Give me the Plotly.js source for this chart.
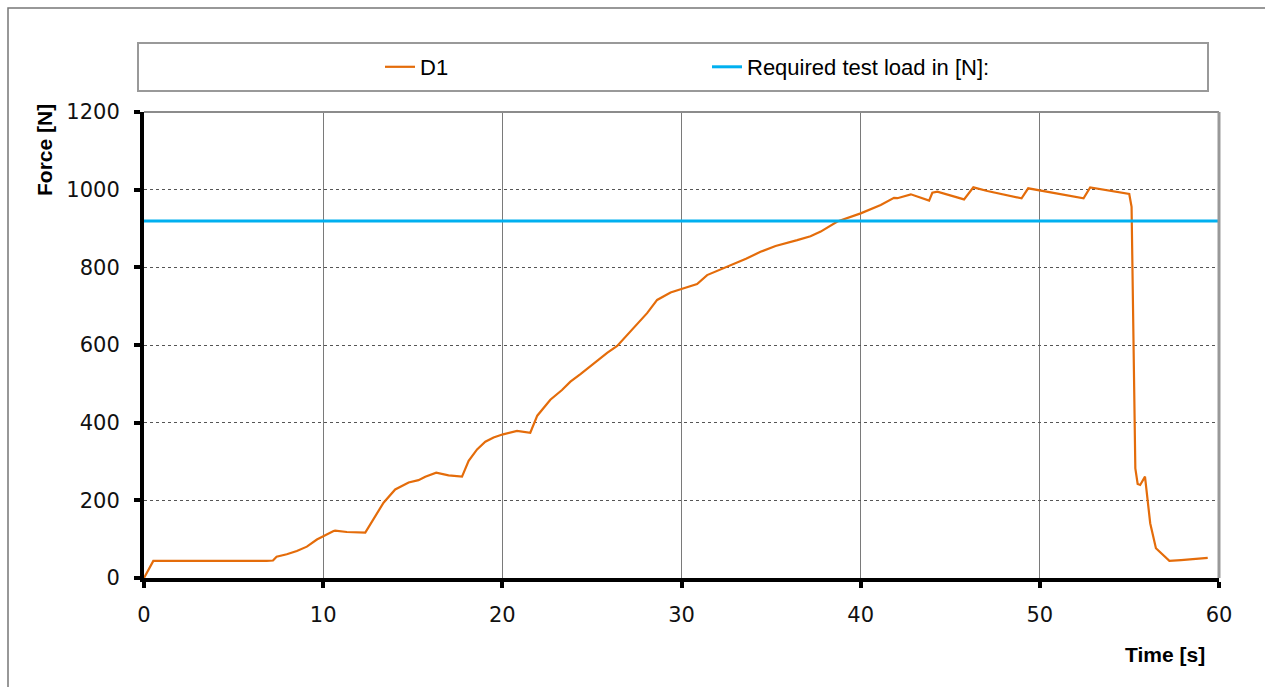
<!DOCTYPE html>
<html>
<head>
<meta charset="utf-8">
<script src="https://cdn.plot.ly/plotly-3.0.1.min.js"></script>
<style>html,body{margin:0;padding:0;background:#fff;}#chart{width:1265px;height:687px;}</style>
</head>
<body>
<div id="chart"></div>
<script>
// Data
var timeS = [0, 0.52, 6.85, 7.2, 7.4, 7.97, 8.53, 9.09, 9.65, 10.0, 10.58, 10.67, 11.32, 12.35, 13.37, 14.02, 14.77, 15.32, 15.7, 16.31, 17.0, 17.75, 18.12, 18.59, 19.05, 19.51, 20.04, 20.82, 21.56, 21.95, 22.68, 23.33, 23.8, 24.36, 24.92, 25.85, 26.41, 26.97, 27.52, 28.08, 28.64, 29.39, 30.04, 30.87, 31.43, 32.0, 32.92, 33.6, 34.41, 35.25, 36.46, 37.2, 37.77, 38.7, 40.0, 41.12, 41.86, 42.05, 42.8, 43.82, 44.0, 44.28, 45.77, 46.29, 47.07, 48.98, 49.35, 50.06, 52.44, 52.81, 54.99, 55.12, 55.17, 55.27, 55.33, 55.46, 55.6, 55.87, 55.98, 56.16, 56.48, 56.95, 57.23, 57.88, 59.37];
var forceN = [0, 44, 44, 45, 55, 61, 69.5, 80.7, 99, 108, 121, 122, 118.5, 117, 194, 228, 246, 252, 261, 271, 264.5, 261, 302, 331, 351, 362, 370, 379, 374, 418, 459, 484, 505.6, 525, 546, 580, 597.5, 626, 656, 682, 716, 735, 745, 757, 780, 791, 810, 822, 840, 855, 870, 880, 892, 918, 939, 960.6, 979, 978, 988, 971.7, 992, 995, 975, 1006, 996.6, 977.8, 1003.5, 997.5, 977.8, 1006, 989, 956, 802, 510, 282, 242, 239.5, 261, 218, 141, 76.5, 55, 44, 46, 52];
var requiredTime = [0, 60];
var requiredLoad = [919, 919];
var xTicks = [0, 10, 20, 30, 40, 50, 60];
var yTicks = [0, 200, 400, 600, 800, 1000, 1200];

var traces = [
  {
    x: timeS, y: forceN, type: 'scatter', mode: 'lines', name: 'D1',
    line: {color: '#E46C0A', width: 2.2}
  },
  {
    x: requiredTime, y: requiredLoad, type: 'scatter', mode: 'lines', name: 'Required test load in [N]:',
    line: {color: '#00B0F0', width: 3}
  }
];

var W = 1265, H = 687, L = 144, R = 1219, T = 112, B = 578;
function px(xp){ return (xp - L) / (R - L); }
function py(yp){ return (B - yp) / (B - T); }

var layout = {
  width: W, height: H,
  margin: {l: L, r: W - R, t: T, b: H - B, pad: 0},
  paper_bgcolor: '#ffffff', plot_bgcolor: '#ffffff',
  showlegend: true,
  legend: {
    orientation: 'h', x: px(380), xanchor: 'left', y: py(67), yanchor: 'middle',
    bgcolor: 'rgba(0,0,0,0)', borderwidth: 0,
    font: {family: 'Liberation Sans, Arial, sans-serif', size: 22, color: '#000'},
    entrywidth: 282, entrywidthmode: 'pixels', itemclick: false
  },
  xaxis: {
    range: [0, 60], tickvals: xTicks, ticktext: xTicks.map(String),
    showline: true, linewidth: 4, linecolor: '#000',
    ticks: 'outside', ticklen: 6, tickwidth: 4, tickcolor: '#000',
    showgrid: true, gridcolor: '#7a7a7a', gridwidth: 1, zeroline: false,
    tickfont: {family: 'DejaVu Sans, Verdana, sans-serif', size: 21, color: '#111'},
    ticklabelstandoff: 9, fixedrange: true
  },
  yaxis: {
    range: [0, 1200], tickvals: yTicks, ticktext: yTicks.map(String),
    showline: true, linewidth: 4, linecolor: '#000',
    ticks: 'outside', ticklen: 6, tickwidth: 4, tickcolor: '#000',
    showgrid: true, gridcolor: '#555', gridwidth: 1, griddash: 'dot', zeroline: false,
    tickfont: {family: 'DejaVu Sans, Verdana, sans-serif', size: 21, color: '#111'},
    ticklabelstandoff: 10, fixedrange: true
  },
  shapes: [
    {type: 'rect', xref: 'paper', yref: 'paper', x0: px(8), x1: px(1300), y0: py(720), y1: py(8), line: {color: '#777', width: 1.5}, layer: 'below'},
    {type: 'rect', xref: 'paper', yref: 'paper', x0: px(138), x1: px(1208), y0: py(91), y1: py(43), line: {color: '#999', width: 2}, layer: 'below'},
    {type: 'line', xref: 'paper', yref: 'paper', x0: 0, x1: 1, y0: 1, y1: 1, line: {color: '#8c8c8c', width: 2}},
    {type: 'line', xref: 'paper', yref: 'paper', x0: 1, x1: 1, y0: 0, y1: 1, line: {color: '#999', width: 3}}
  ],
  annotations: [
    {text: '<b>Force [N]</b>', xref: 'paper', yref: 'paper', x: px(44), y: py(150), textangle: -90, showarrow: false,
     font: {family: 'Liberation Sans, Arial, sans-serif', size: 21, color: '#000'}, xanchor: 'center', yanchor: 'middle'},
    {text: '<b>Time [s]</b>', xref: 'paper', yref: 'paper', x: px(1165), y: py(654), showarrow: false,
     font: {family: 'Liberation Sans, Arial, sans-serif', size: 21, color: '#000'}, xanchor: 'center', yanchor: 'middle'}
  ]
};

Plotly.newPlot('chart', traces, layout, {displayModeBar: false, staticPlot: true});
</script>
</body>
</html>
